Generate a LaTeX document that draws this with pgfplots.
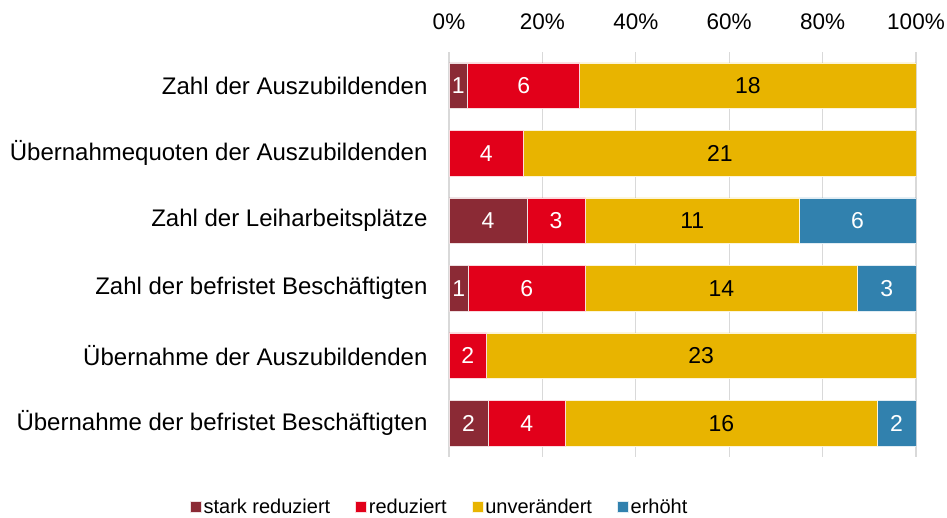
\documentclass[border=0pt]{standalone}
\usepackage{pgfplots}
\pgfplotsset{compat=1.18}
\usepackage{pgfplotstable}
\usepackage{fontspec}
\setmainfont{Liberation Sans}
\definecolor{cSR}{HTML}{8B2A35}
\definecolor{cR}{HTML}{E2001A}
\definecolor{cU}{HTML}{E8B400}
\definecolor{cE}{HTML}{3181AE}
\definecolor{cGrid}{HTML}{D9D9D9}
\pgfplotstableread{
y sr r u e t
0 1 6 18 0 25
1 0 4 21 0 25
2 4 3 11 6 24
3 1 6 14 3 24
4 0 2 23 0 25
5 2 4 16 2 24
}\data
\pgfplotsset{
  common/.style={
    at={(449pt,60pt)}, anchor=south west,
    scale only axis, width=467pt, height=405pt,
    xmin=0, xmax=100, ymin=-0.5, ymax=5.5, y dir=reverse,
    /pgf/number format/assume math mode=true,
  },
  lbl/.style={only marks, mark=none, point meta=explicit,
    nodes near coords={\pgfmathfloatifflags{\pgfplotspointmeta}{0}{}{\pgfmathprintnumber{\pgfplotspointmeta}}},
    nodes near coords align={center},
    every node near coord/.append style={anchor=center, font=\fontsize{23}{26}\selectfont, text=#1}},
}
\begin{document}
\begin{tikzpicture}[x=1pt,y=1pt]
\useasboundingbox (0,0) rectangle (947,517);
\begin{axis}[common,
  xbar stacked, bar width=0.68,
  axis line style={draw=none},
  major tick length=0,
  xtick={0,20,40,60,80,100},
  xticklabel pos=upper,
  xticklabel={\pgfmathprintnumber{\tick}\%},
  xticklabel style={anchor=south, yshift=19pt, font=\fontsize{22.5}{26}\selectfont},
  ytick={0,1,2,3,4,5},
  yticklabels={Zahl der Auszubildenden, Übernahmequoten der Auszubildenden, Zahl der Leiharbeitsplätze, Zahl der befristet Beschäftigten, Übernahme der Auszubildenden, Übernahme der befristet Beschäftigten},
  yticklabel style={anchor=east, xshift=-18pt, font=\fontsize{24}{28}\selectfont},
  xmajorgrids, grid style={cGrid, line width=1.2pt},
  legend style={at={(-0.02,-0.123)}, anchor=center, draw=none, legend columns=4,
    font=\fontsize{20}{24}\selectfont, /tikz/every even column/.append style={column sep=23pt}},
  legend image code/.code={\fill[#1] (0pt,-5.5pt) rectangle (11pt,5.5pt);},
]
\addplot[fill=cSR, draw=white!85!cSR, line width=0.6pt] table[x expr=\thisrow{sr}/\thisrow{t}*100, y=y] {\data};
\addlegendentry{stark reduziert}
\addplot[fill=cR, draw=white!85!cR, line width=0.6pt] table[x expr=\thisrow{r}/\thisrow{t}*100, y=y] {\data};
\addlegendentry{reduziert}
\addplot[fill=cU, draw=white!85!cU, line width=0.6pt] table[x expr=\thisrow{u}/\thisrow{t}*100, y=y] {\data};
\addlegendentry{unverändert}
\addplot[fill=cE, draw=white!85!cE, line width=0.6pt] table[x expr=\thisrow{e}/\thisrow{t}*100, y=y] {\data};
\addlegendentry{erhöht}
\end{axis}
\begin{axis}[common, hide axis]
\addplot[lbl=white] table[x expr=\thisrow{sr}/2/\thisrow{t}*100, y=y, meta=sr] {\data};
\addplot[lbl=white] table[x expr=(\thisrow{sr}+\thisrow{r}/2)/\thisrow{t}*100, y=y, meta=r] {\data};
\addplot[lbl=black] table[x expr=(\thisrow{sr}+\thisrow{r}+\thisrow{u}/2)/\thisrow{t}*100, y=y, meta=u] {\data};
\addplot[lbl=white] table[x expr=(\thisrow{sr}+\thisrow{r}+\thisrow{u}+\thisrow{e}/2)/\thisrow{t}*100, y=y, meta=e] {\data};
\end{axis}
\end{tikzpicture}
\end{document}
